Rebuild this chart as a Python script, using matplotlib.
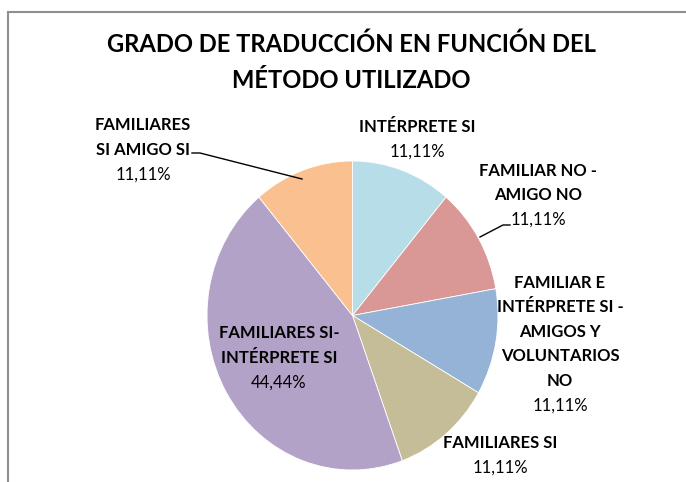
import matplotlib
matplotlib.use("Agg")
import matplotlib.pyplot as plt
from matplotlib.lines import Line2D

W, H = 686, 482
title = "GRADO DE TRADUCCIÓN EN FUNCIÓN DEL\nMÉTODO UTILIZADO"
categories = [
    ["INTÉRPRETE SI"],
    ["FAMILIAR NO -", "AMIGO NO"],
    ["FAMILIAR E", "INTÉRPRETE SI -", "AMIGOS Y", "VOLUNTARIOS", "NO"],
    ["FAMILIARES SI"],
    ["FAMILIARES SI-", "INTÉRPRETE SI"],
    ["FAMILIARES", "SI AMIGO SI"],
]
values = [11.11, 11.11, 11.11, 11.11, 44.44, 11.11]
colors = ["#B7DEE8", "#D99795", "#95B3D7", "#C4BD97", "#B3A2C7", "#FAC090"]

# label block centres (pixel coords, y from top) and line spacing
label_pos = [(417, 139), (538, 195), (560, 344), (500, 455), (279, 358), (143, 150)]
line_gap = 24.5

FONT = "Lato"

fig = plt.figure(figsize=(W / 100, H / 100), dpi=100)
fig.patch.set_facecolor("white")

# pie axes (slightly stretched vertically as in the reference)
cx, cy, rx, ry = 352.5, 315.5, 145.5, 154.5
axp = fig.add_axes([(cx - rx) / W, 1 - (cy + ry) / H, 2 * rx / W, 2 * ry / H])
axp.pie(values, colors=colors, startangle=90, counterclock=False,
        wedgeprops=dict(edgecolor="white", linewidth=0.6))
axp.set_aspect("auto")
axp.set_xlim(-1, 1)
axp.set_ylim(-1, 1)
axp.axis("off")

# overlay axes in pixel coordinates
ov = fig.add_axes([0, 0, 1, 1], facecolor="none")
ov.set_xlim(0, W)
ov.set_ylim(H, 0)
ov.axis("off")

# frame lines (top and left)
ov.add_line(Line2D([8, W], [12, 12], color="#8f8f8f", lw=1.5))
ov.add_line(Line2D([8, 8], [12, H], color="#8f8f8f", lw=1.5))

# title
for i, t in enumerate(title.split("\n")):
    ov.text(351, 44 + i * 36.5, t, ha="center", va="center", fontsize=17.1,
            fontweight="bold", family=FONT, color="black")

# data labels
for (x, y), lines, v in zip(label_pos, categories, values):
    all_lines = lines + [f"{v:.2f}".replace(".", ",") + "%"]
    n = len(all_lines)
    y0 = y - (n - 1) * line_gap / 2
    for j, s in enumerate(all_lines):
        bold = j < n - 1
        ov.text(x, y0 + j * line_gap, s, ha="center", va="center",
                fontsize=12, fontweight="bold" if bold else "normal",
                family=FONT, color="black")

# leader lines
ov.add_line(Line2D([192, 200, 302], [153, 153, 179], color="black", lw=1))
ov.add_line(Line2D([480, 503, 510], [237, 225, 225], color="black", lw=1))

fig.savefig("out.png", dpi=100, facecolor="white")
